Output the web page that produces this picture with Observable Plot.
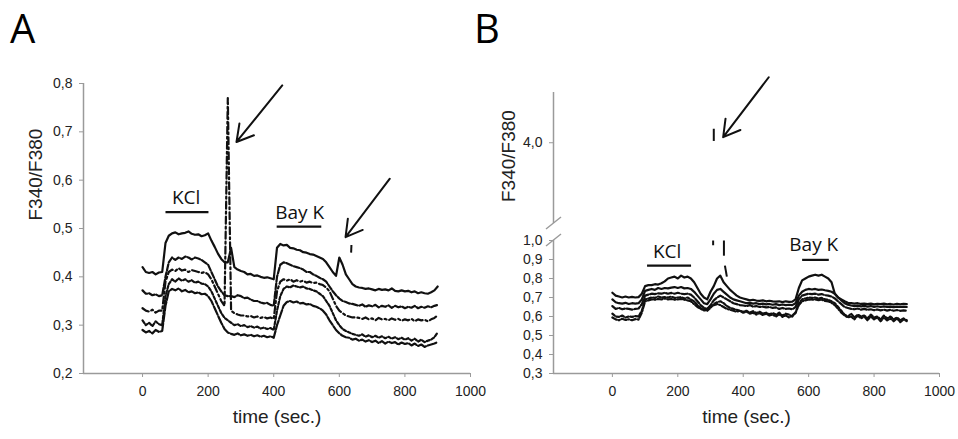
<!DOCTYPE html>
<html><head><meta charset="utf-8">
<script src="https://cdn.jsdelivr.net/npm/d3@7"></script>
<script src="https://cdn.jsdelivr.net/npm/@observablehq/plot@0.6"></script>
<style>
html,body{margin:0;padding:0;background:#fff;}
#wrap{position:relative;width:958px;height:439px;overflow:hidden;}
#wrap > svg{position:absolute;top:0;overflow:visible;}
.panel{position:absolute;font-family:'Open Sans',sans-serif;font-size:40px;line-height:normal;color:#000;}
</style></head><body><div id="wrap"></div>
<script>
// sampling grid (s)
const times = d3.range(0, 901, 10);
const xTicks = [0, 200, 400, 600, 800, 1000];
const yTicksA = [0.2, 0.3, 0.4, 0.5, 0.6, 0.7, 0.8];
const yTicksB = [0.3, 0.4, 0.5, 0.6, 0.7, 0.8, 0.9, 1.0, 4.0];

// ---- Panel A traces (F340/F380 every 10 s, 0..900 s)
const traceA1 = [0.42,0.41,0.408,0.41,0.405,0.409,0.41,
 0.47,0.485,0.49,0.492,0.488,0.49,0.491,0.494,0.489,0.487,0.488,0.484,0.486,0.49,
 0.475,0.462,0.448,0.437,0.43,0.43,0.46,0.42,
 0.415,0.412,0.41,0.405,0.406,0.402,0.403,0.4,0.398,0.399,0.397,0.395,
 0.46,0.468,0.465,0.466,0.46,0.459,0.456,0.455,0.451,0.45,0.447,0.446,0.443,0.44,0.437,0.43,
 0.42,0.41,0.402,0.44,0.425,0.405,
 0.395,0.385,0.38,0.378,0.377,0.375,0.376,0.374,0.372,0.375,0.373,0.374,0.372,0.376,0.371,0.37,0.372,0.37,0.371,0.368,0.37,0.366,0.368,0.366,0.365,0.368,0.372,0.38];
const traceA2 = [0.372,0.365,0.366,0.362,0.364,0.36,0.362,
 0.40,0.43,0.44,0.435,0.44,0.437,0.442,0.44,0.436,0.44,0.438,0.435,0.43,0.425,
 0.41,0.395,0.38,0.37,0.362,0.36,0.36,0.358,0.362,0.36,0.356,0.357,0.353,0.35,0.35,0.347,0.345,0.346,0.342,0.34,
 0.40,0.425,0.43,0.428,0.425,0.422,0.42,0.418,0.415,0.41,0.41,0.405,0.402,0.398,0.395,0.39,
 0.38,0.37,0.362,0.355,0.35,0.348,
 0.345,0.344,0.342,0.34,0.343,0.338,0.341,0.339,0.342,0.337,0.34,0.338,0.341,0.336,0.34,0.337,0.339,0.335,0.338,0.336,0.34,0.335,0.338,0.336,0.339,0.337,0.34,0.342];
const traceA3 = [0.335,0.33,0.328,0.332,0.326,0.33,0.33,
 0.39,0.41,0.415,0.412,0.418,0.413,0.415,0.41,0.414,0.412,0.41,0.408,0.41,0.405,
 0.395,0.38,0.365,0.35,0.34,0.77,0.33,0.325,0.322,0.32,0.32,0.318,0.319,0.316,0.318,0.315,0.317,0.314,0.316,0.313,
 0.37,0.39,0.395,0.392,0.395,0.39,0.393,0.39,0.392,0.388,0.39,0.387,0.388,0.385,0.383,0.378,
 0.37,0.355,0.34,0.33,0.325,0.32,
 0.318,0.316,0.316,0.315,0.313,0.316,0.312,0.314,0.31,0.315,0.312,0.313,0.31,0.314,0.311,0.313,0.309,0.312,0.31,0.313,0.308,0.312,0.31,0.311,0.308,0.312,0.315,0.32];
const traceA4 = [0.31,0.3,0.305,0.298,0.308,0.302,0.3,
 0.36,0.385,0.395,0.39,0.397,0.392,0.395,0.39,0.393,0.388,0.39,0.386,0.385,0.38,
 0.37,0.355,0.34,0.325,0.315,0.31,0.305,0.3,0.302,0.298,0.3,0.296,0.298,0.295,0.297,0.293,0.295,0.292,0.294,0.29,
 0.33,0.36,0.375,0.38,0.378,0.382,0.38,0.378,0.38,0.376,0.375,0.372,0.37,0.365,0.36,0.35,
 0.34,0.325,0.31,0.3,0.292,0.288,
 0.285,0.282,0.28,0.278,0.281,0.276,0.279,0.275,0.278,0.274,0.277,0.273,0.276,0.272,0.275,0.271,0.274,0.27,0.273,0.268,0.272,0.266,0.27,0.265,0.268,0.27,0.275,0.285];
const traceA5 = [0.29,0.285,0.288,0.283,0.29,0.286,0.288,
 0.34,0.37,0.375,0.372,0.376,0.37,0.373,0.368,0.37,0.366,0.368,0.364,0.365,0.36,
 0.35,0.335,0.32,0.305,0.292,0.285,0.282,0.28,0.283,0.279,0.281,0.278,0.28,0.277,0.279,0.276,0.278,0.275,0.277,0.274,
 0.3,0.32,0.34,0.348,0.35,0.347,0.349,0.345,0.346,0.343,0.344,0.34,0.338,0.335,0.33,0.322,
 0.31,0.3,0.29,0.283,0.278,0.275,
 0.274,0.27,0.272,0.268,0.27,0.266,0.269,0.265,0.268,0.263,0.267,0.262,0.266,0.263,0.265,0.26,0.264,0.261,0.263,0.258,0.262,0.257,0.26,0.255,0.258,0.26,0.262,0.265];

// ---- Panel B traces
const traceB1 = [0.725,0.71,0.705,0.7,0.705,0.7,0.703,0.7,0.702,0.72,
 0.76,0.765,0.765,0.77,0.768,0.775,0.785,0.8,0.805,0.81,0.8,0.815,0.805,0.81,0.8,
 0.78,0.75,0.72,0.7,0.69,0.73,0.76,0.8,0.815,0.78,0.76,0.74,0.725,0.71,0.7,
 0.695,0.69,0.685,0.688,0.684,0.682,0.685,0.68,0.683,0.68,0.678,0.68,0.676,0.68,0.677,0.678,
 0.69,0.75,0.79,0.8,0.81,0.815,0.82,0.815,0.82,0.81,0.8,0.78,0.72,0.7,0.69,
 0.68,0.672,0.67,0.668,0.67,0.666,0.668,0.665,0.668,0.664,0.667,0.665,0.668,0.664,0.666,0.663,0.667,0.664,0.666,0.665];
const traceB2 = [0.69,0.675,0.67,0.668,0.672,0.666,0.67,0.668,0.67,0.69,
 0.735,0.74,0.745,0.74,0.75,0.745,0.75,0.748,0.752,0.755,0.75,0.755,0.748,0.75,0.745,
 0.73,0.71,0.69,0.67,0.665,0.69,0.72,0.74,0.745,0.73,0.715,0.7,0.69,0.685,0.68,
 0.675,0.67,0.672,0.668,0.67,0.665,0.668,0.664,0.666,0.662,0.665,0.66,0.663,0.66,0.662,0.66,
 0.67,0.71,0.73,0.74,0.745,0.742,0.745,0.74,0.742,0.738,0.735,0.73,0.72,0.7,0.685,
 0.67,0.662,0.658,0.655,0.657,0.653,0.656,0.652,0.655,0.651,0.654,0.65,0.653,0.65,0.652,0.649,0.652,0.65,0.651,0.65];
const traceB3 = [0.655,0.64,0.645,0.638,0.642,0.64,0.636,0.64,0.642,0.665,
 0.71,0.715,0.72,0.718,0.722,0.72,0.725,0.72,0.724,0.72,0.725,0.72,0.718,0.72,0.715,
 0.7,0.68,0.66,0.645,0.64,0.66,0.685,0.7,0.71,0.7,0.69,0.68,0.67,0.665,0.66,
 0.658,0.655,0.66,0.652,0.655,0.65,0.652,0.648,0.65,0.645,0.648,0.64,0.645,0.64,0.642,0.638,
 0.65,0.69,0.71,0.715,0.72,0.718,0.72,0.715,0.718,0.712,0.71,0.705,0.695,0.68,0.665,
 0.65,0.645,0.64,0.638,0.642,0.636,0.64,0.635,0.638,0.633,0.637,0.632,0.636,0.631,0.635,0.63,0.634,0.63,0.632,0.63];
const traceB4 = [0.615,0.6,0.598,0.605,0.595,0.6,0.598,0.602,0.6,0.63,
 0.69,0.695,0.7,0.698,0.705,0.7,0.702,0.7,0.705,0.698,0.7,0.702,0.695,0.7,0.69,
 0.68,0.66,0.645,0.635,0.63,0.645,0.665,0.675,0.68,0.67,0.655,0.645,0.64,0.635,0.63,
 0.625,0.63,0.62,0.628,0.618,0.625,0.615,0.62,0.612,0.618,0.61,0.62,0.605,0.615,0.61,0.6,
 0.62,0.67,0.69,0.695,0.7,0.698,0.7,0.695,0.698,0.69,0.688,0.68,0.67,0.65,0.63,
 0.61,0.6,0.615,0.595,0.61,0.6,0.605,0.59,0.61,0.595,0.6,0.585,0.605,0.59,0.6,0.585,0.595,0.58,0.59,0.58];
const traceB5 = [0.595,0.585,0.58,0.588,0.582,0.585,0.58,0.586,0.584,0.62,
 0.68,0.685,0.69,0.688,0.692,0.69,0.695,0.69,0.692,0.688,0.69,0.692,0.688,0.685,0.68,
 0.665,0.65,0.64,0.632,0.64,0.655,0.66,0.665,0.66,0.65,0.64,0.635,0.63,0.625,0.63,
 0.62,0.625,0.615,0.62,0.61,0.618,0.608,0.615,0.605,0.61,0.6,0.612,0.598,0.606,0.595,0.605,
 0.62,0.66,0.68,0.685,0.69,0.688,0.69,0.686,0.688,0.682,0.68,0.672,0.66,0.64,0.62,
 0.605,0.595,0.6,0.585,0.605,0.59,0.6,0.58,0.6,0.585,0.595,0.575,0.595,0.58,0.59,0.575,0.59,0.57,0.585,0.575];

// visible fragments of off-scale spikes (time, ratio)
const spikeA = [{t1: 636, v1: 0.45, t2: 637, v2: 0.466}];
const spikeB = [
 {t1: 308, v1: 0.975, t2: 308, v2: 1.0},
 {t1: 310, v1: 4.01, t2: 310, v2: 4.078},
 {t1: 341, v1: 1.0, t2: 341, v2: 0.92},
 {t1: 344, v1: 0.868, t2: 350, v2: 0.81}
];

// annotations
const barsA = [{t1: 70, t2: 201, v: 0.534}, {t1: 409, t2: 545, v: 0.504}];
const labelsA = [{text: "KCl", t: 133, v: 0.5635}, {text: "Bay K", t: 479, v: 0.533}];
const arrowsA = [{t1: 426, v1: 0.796, t2: 286.5, v2: 0.679}, {t1: 754, v1: 0.603, t2: 619, v2: 0.482}];
const barsB = [{t1: 106, t2: 240.5, v: 0.868}, {t1: 580, t2: 661.6, v: 0.898}];
const labelsB = [{text: "KCl", t: 167.5, v: 0.938}, {text: "Bay K", t: 615.7, v: 0.977}];
const arrowsB = [{t1: 478, v1: 4.365, t2: 338.7, v2: 4.031}];
const panelLetters = [{text: "A", left: 10, top: 0}, {text: "B", left: 474, top: 0}];

const rows = (vals) => vals.map((v, i) => ({t: times[i], v}));
const fmt = d => d.toFixed(1).replace(".", ",");
const axisColor = "#9a9a9a";
const ink = "#111";
const baseStyle = {fontFamily: "'Liberation Sans', Arial, sans-serif", fontSize: "14px", color: "#222", background: "transparent", overflow: "visible"};
const titleFont = "'Liberation Sans', Arial, sans-serif";
const annFont = "'Open Sans', sans-serif";
const lw = 2.2;

const tracesA = [
 {vals: traceA1, dash: null},
 {vals: traceA2, dash: "6,2"},
 {vals: traceA3, dash: "7,3,2,3"},
 {vals: traceA4, dash: "3,2"},
 {vals: traceA5, dash: "9,2"}
];
const tracesB = [
 {vals: traceB1, dash: null},
 {vals: traceB2, dash: null},
 {vals: traceB3, dash: "6,2"},
 {vals: traceB4, dash: "3,2"},
 {vals: traceB5, dash: "5,2,1,2"}
];

const plotA = Plot.plot({
  width: 479, height: 439,
  marginLeft: 83, marginRight: 9, marginTop: 83, marginBottom: 66,
  style: baseStyle,
  x: {domain: [-180, 1000]},
  y: {domain: [0.2, 0.8]},
  marks: [
    Plot.ruleY([0.2], {stroke: axisColor, strokeWidth: 1.5}),
    Plot.ruleX([-180], {stroke: axisColor, strokeWidth: 1.5}),
    Plot.axisX({ticks: xTicks, tickSize: 4, tickPadding: 9, stroke: axisColor, fill: "#222", label: null, tickFormat: d => String(d)}),
    Plot.axisY({ticks: yTicksA, tickSize: 4, tickPadding: 7, stroke: axisColor, fill: "#222", label: null, tickFormat: fmt}),
    ...tracesA.map(s => Plot.line(rows(s.vals), {x: "t", y: "v", stroke: ink, strokeWidth: lw, strokeDasharray: s.dash})),
    Plot.link(spikeA, {x1: "t1", y1: "v1", x2: "t2", y2: "v2", stroke: ink, strokeWidth: 2}),
    Plot.link(barsA, {x1: "t1", x2: "t2", y1: "v", y2: "v", stroke: ink, strokeWidth: 2.2}),
    Plot.text(labelsA, {x: "t", y: "v", text: "text", fontFamily: annFont, fontSize: 19, fill: ink}),
    Plot.arrow(arrowsA, {x1: "t1", y1: "v1", x2: "t2", y2: "v2", stroke: ink, strokeWidth: 2, headLength: 14}),
    Plot.text(["F340/F380"], {frameAnchor: "left", dx: -48, dy: -8, rotate: -90, fontFamily: titleFont, fontSize: 19, fill: "#222"}),
    Plot.text(["time (sec.)"], {frameAnchor: "bottom", dy: 49, fontFamily: titleFont, fontSize: 19, fill: "#222"})
  ]
});

const plotB = Plot.plot({
  width: 479, height: 439,
  marginLeft: 74, marginRight: 19, marginTop: 92, marginBottom: 66,
  style: baseStyle,
  x: {domain: [-180, 1000]},
  y: {type: "linear", domain: [0.3, 1.0, 3.55, 4.28], range: [373, 240, 223, 92]},
  marks: [
    Plot.ruleY([0.3], {stroke: axisColor, strokeWidth: 1.5}),
    Plot.ruleX([-180, -180], {y1: [0.3, 3.55], y2: [1.02, 4.28], stroke: axisColor, strokeWidth: 1.5}),
    Plot.axisX({ticks: xTicks, tickSize: 4, tickPadding: 9, stroke: axisColor, fill: "#222", label: null, tickFormat: d => String(d)}),
    Plot.axisY({ticks: yTicksB, tickSize: 4, tickPadding: 7, stroke: axisColor, fill: "#222", label: null, tickFormat: fmt}),
    ...tracesB.map(s => Plot.line(rows(s.vals), {x: "t", y: "v", stroke: ink, strokeWidth: lw, strokeDasharray: s.dash})),
    Plot.link(spikeB, {x1: "t1", y1: "v1", x2: "t2", y2: "v2", stroke: ink, strokeWidth: 2}),
    Plot.link(barsB, {x1: "t1", x2: "t2", y1: "v", y2: "v", stroke: ink, strokeWidth: 2.2}),
    Plot.text(labelsB, {x: "t", y: "v", text: "text", fontFamily: annFont, fontSize: 19, fill: ink}),
    Plot.arrow(arrowsB, {x1: "t1", y1: "v1", x2: "t2", y2: "v2", stroke: ink, strokeWidth: 2, headLength: 14}),
    Plot.text(["F340/F380"], {frameAnchor: "left", dx: -45, dy: -31, rotate: -90, fontFamily: titleFont, fontSize: 19, fill: "#222"}),
    Plot.text(["time (sec.)"], {frameAnchor: "bottom", dy: 49, fontFamily: titleFont, fontSize: 19, fill: "#222"})
  ]
});

// axis-break slashes on B's y axis
{
  const sx = plotB.scale("x"), sy = plotB.scale("y");
  const ax = sx.apply(-180);
  const g = d3.select(plotB).append("g").attr("stroke", axisColor).attr("stroke-width", 1.5);
  for (const v of [1.0, 3.55]) {
    const py = sy.apply(v);
    g.append("line").attr("x1", ax - 7).attr("y1", py + 6).attr("x2", ax + 8).attr("y2", py - 6);
  }
}

const wrap = document.getElementById("wrap");
plotA.style.left = "0px";
plotB.style.left = "479px";
wrap.appendChild(plotA);
wrap.appendChild(plotB);

// panel letters
for (const p of panelLetters) {
  const d = document.createElement("div");
  d.className = "panel";
  d.style.left = p.left + "px";
  d.style.top = p.top + "px";
  d.textContent = p.text;
  wrap.appendChild(d);
}
</script></body></html>
